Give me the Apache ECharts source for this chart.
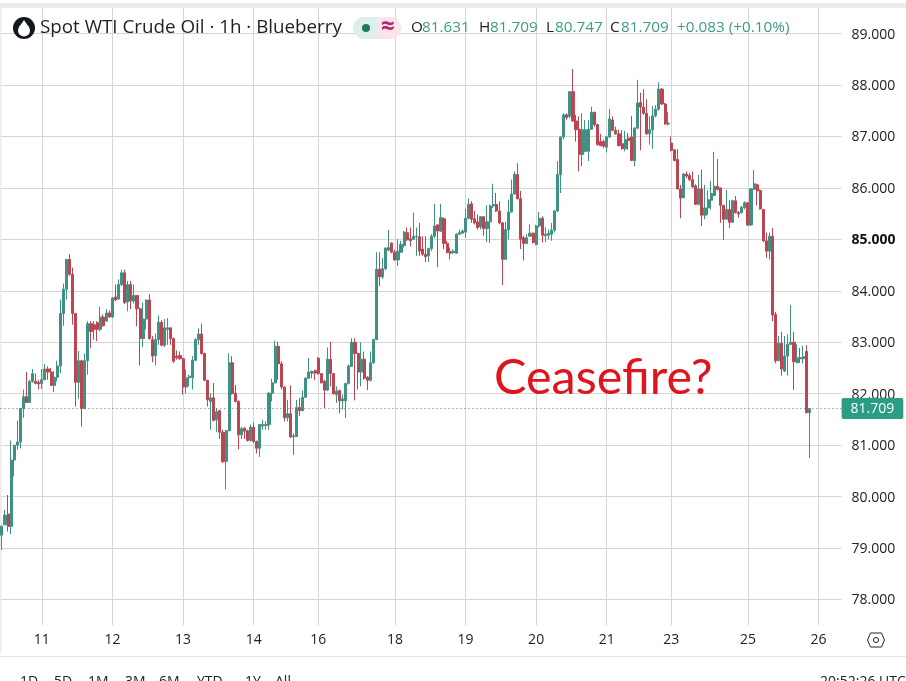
<!DOCTYPE html>
<html><head><meta charset="utf-8">
<style>html,body{margin:0;padding:0;background:#fff;overflow:hidden}#c{width:906px;height:681px}</style>
<script src="https://cdn.jsdelivr.net/npm/echarts@6/dist/echarts.min.js"></script>
</head><body><div id="c"></div>
<script>
const opens=[79.25,79.45,79.66,79.42,80.71,81.0,81.06,81.71,81.94,81.83,
82.24,82.24,82.22,82.2,82.27,82.48,82.42,82.16,82.32,82.54,
83.56,84.03,84.61,84.32,83.56,82.22,82.64,81.71,82.64,83.36,
83.34,83.38,83.25,83.49,83.41,83.57,83.49,83.88,83.84,84.12,
84.35,83.78,84.12,83.8,83.91,83.65,83.07,83.45,83.82,83.05,
82.74,83.05,83.39,82.94,83.25,83.28,83.07,82.73,82.74,82.68,
82.13,82.31,82.31,82.65,83.05,83.16,82.78,82.26,81.85,81.92,
81.49,81.67,81.25,80.68,81.28,82.6,82.01,81.85,81.2,81.33,
81.28,81.09,81.35,81.07,80.94,81.37,81.38,81.4,82.01,82.21,
82.92,82.58,82.13,81.53,81.61,81.16,81.17,81.73,81.67,81.93,
82.3,82.4,82.45,82.69,82.39,82.24,82.07,82.67,82.39,81.98,
82.06,81.86,81.86,82.2,82.53,83.0,82.78,82.42,82.67,82.32,
82.26,82.6,83.05,84.42,84.27,84.43,84.79,84.93,84.75,84.6,
84.75,84.88,85.13,85.01,85.0,85.05,85.05,84.81,84.71,84.68,
84.82,85.06,85.28,85.16,85.4,84.92,84.76,84.74,84.73,85.1,
85.12,85.14,85.41,85.69,85.4,85.34,85.24,85.44,85.21,85.34,
85.65,85.68,85.55,85.32,84.61,85.19,85.53,85.88,86.26,85.79,
85.03,84.92,85.06,85.12,84.9,85.26,85.41,85.07,85.08,85.1,
85.18,85.55,86.26,86.99,87.42,87.39,87.87,87.3,87.14,86.65,
86.71,86.71,87.14,87.47,87.23,86.9,86.9,86.79,86.99,87.32,
87.12,87.05,86.86,86.76,86.97,86.99,86.53,87.16,87.66,87.57,
87.45,87.05,87.13,87.4,87.53,87.92,87.63,87.24,86.87,86.74,
86.55,85.98,85.81,86.27,86.24,86.16,86.04,85.68,85.98,85.47,
85.61,85.76,85.85,86.03,86.0,85.66,85.39,85.58,85.33,85.75,
85.52,85.52,85.62,85.71,85.28,85.97,86.06,85.95,85.58,84.97,
84.77,85.06,83.54,82.64,82.98,82.44,82.73,82.96,83.0,82.6,
82.7,82.68,82.82,81.631];
const closes=[79.42,79.64,79.42,80.71,81.0,81.06,81.71,81.94,81.83,82.24,
82.39,82.2,82.19,82.27,82.48,82.42,82.16,82.32,82.54,83.56,
84.03,84.61,84.32,83.56,82.22,82.64,81.71,82.64,83.36,83.21,
83.25,83.25,83.49,83.32,83.57,83.49,83.86,83.82,84.12,84.35,
83.77,84.12,83.8,83.91,83.65,83.07,83.45,83.82,83.07,82.73,
83.05,83.39,82.94,83.28,83.28,83.07,82.63,82.7,82.68,82.13,
82.31,82.34,82.65,83.05,83.16,82.78,82.26,81.88,81.92,81.48,
81.65,81.25,80.68,81.28,82.6,82.0,81.85,81.2,81.32,81.27,
81.09,81.35,81.07,80.94,81.4,81.4,81.4,82.01,82.21,82.92,
82.58,82.13,81.53,81.61,81.16,81.18,81.73,81.67,81.93,82.3,
82.42,82.43,82.4,82.39,82.21,82.07,82.67,82.39,82.0,82.05,
81.86,81.9,82.2,82.54,83.0,82.78,82.42,82.67,82.3,82.26,
82.6,83.05,84.42,84.27,84.43,84.83,84.84,84.75,84.6,84.77,
84.9,85.14,84.99,84.97,85.06,85.06,84.77,84.71,84.66,84.82,
85.06,85.26,85.16,85.42,84.92,84.74,84.73,84.77,85.1,85.13,
85.16,85.41,85.68,85.39,85.32,85.23,85.44,85.21,85.34,85.65,
85.68,85.55,85.32,84.61,85.19,85.53,85.88,86.26,85.79,85.0,
84.92,85.03,85.12,84.94,85.26,85.41,85.08,85.1,85.12,85.18,
85.55,86.26,86.99,87.42,87.37,87.87,87.3,87.13,86.65,87.13,
87.13,87.14,87.47,87.23,86.84,86.82,86.81,86.99,87.34,87.12,
87.05,86.82,86.76,86.94,86.92,86.53,87.16,87.65,87.57,87.45,
87.05,87.13,87.4,87.53,87.92,87.63,87.24,87.26,86.73,86.53,
85.98,85.8,86.27,86.23,86.16,86.02,85.68,85.98,85.47,85.61,
85.77,85.89,86.03,85.97,85.66,85.39,85.58,85.33,85.75,85.52,
85.49,85.62,85.71,85.28,85.98,86.08,85.94,85.59,84.97,84.77,
85.06,83.53,82.64,82.98,82.48,82.73,82.96,83.0,82.62,82.7,
82.68,82.72,81.63,81.709];
const lows=[78.96,79.45,79.32,79.27,80.39,80.91,80.94,81.53,81.82,81.82,
82.21,82.18,82.08,82.09,82.27,82.27,82.16,82.03,82.24,82.4,
83.32,83.83,84.29,83.34,81.75,81.9,81.36,81.7,82.37,82.89,
83.05,83.02,83.21,83.3,83.41,83.48,83.47,83.8,83.82,84.09,
83.74,83.6,83.64,83.75,83.31,82.55,82.91,83.25,83.05,82.61,
82.55,82.95,82.92,82.91,82.95,82.95,82.6,82.66,82.66,81.98,
82.01,82.14,82.08,82.63,82.95,82.76,82.26,81.75,81.3,81.46,
81.25,81.12,80.65,80.14,81.27,81.98,81.83,80.92,81.12,81.12,
81.07,81.07,81.04,80.84,80.77,81.3,81.3,81.3,81.85,82.2,
82.27,82.08,81.46,81.46,81.14,80.81,81.16,81.57,81.66,81.92,
82.29,82.3,82.27,82.37,82.2,81.72,82.05,82.14,81.98,81.82,
81.62,81.69,81.53,82.18,82.52,81.87,82.08,82.14,82.27,82.07,
82.24,82.58,83.04,84.09,84.23,84.4,84.77,84.73,84.58,84.48,
84.74,84.84,84.97,84.86,84.99,84.68,84.68,84.68,84.56,84.56,
84.77,85.03,84.46,85.14,84.81,84.73,84.61,84.72,84.72,85.08,
85.1,85.03,85.39,85.32,85.29,85.19,85.19,85.07,84.95,84.93,
85.61,85.53,85.29,84.11,84.6,85.0,85.52,85.87,85.77,84.81,
84.59,84.9,85.05,84.92,84.88,85.23,84.94,84.95,85.0,84.97,
85.13,85.53,85.9,86.94,87.32,87.35,87.29,86.9,86.32,86.42,
86.69,86.52,87.13,87.19,86.82,86.81,86.77,86.69,86.97,87.1,
87.03,86.81,86.74,86.71,86.74,86.52,86.42,87.14,86.73,87.42,
87.03,86.84,86.76,87.37,87.5,87.61,87.23,87.21,86.71,86.52,
85.97,85.41,85.8,86.19,86.13,86.0,85.67,85.66,85.26,85.39,
85.47,85.58,85.84,85.95,85.32,84.99,85.38,85.22,85.32,85.5,
85.42,85.5,85.58,85.26,85.26,85.96,85.66,85.58,84.95,84.64,
84.61,83.41,82.59,82.64,82.35,82.42,82.35,82.94,82.07,82.59,
82.6,82.59,81.62,80.747];
const highs=[79.45,79.74,80.03,81.09,81.0,81.48,81.72,82.08,82.42,82.27,
82.48,82.39,82.27,82.48,82.58,82.53,82.5,82.44,82.64,83.83,
84.14,84.62,84.71,84.45,83.57,82.83,82.66,82.78,83.41,83.41,
83.41,83.41,83.69,83.54,83.64,83.62,83.88,84.12,84.22,84.41,
84.41,84.19,84.19,84.12,83.91,83.67,83.77,83.83,83.93,83.12,
83.17,83.52,83.43,83.45,83.47,83.28,83.09,82.84,82.82,82.7,
82.47,82.37,82.73,83.08,83.27,83.36,82.8,82.27,82.01,82.21,
81.72,81.69,81.3,81.3,82.78,82.73,82.17,81.87,81.36,81.35,
81.3,81.4,81.44,81.09,81.41,81.49,81.46,82.03,82.29,83.03,
83.01,82.63,82.14,81.88,82.16,81.23,81.88,81.92,82.06,82.32,
82.69,82.45,82.47,82.71,82.4,82.27,82.9,83.01,82.4,82.14,
82.08,81.98,82.21,82.57,83.08,83.08,82.8,83.0,82.82,82.34,
82.82,83.07,84.75,84.75,84.64,84.84,85.18,84.93,84.8,85.0,
84.97,85.16,85.23,85.23,85.52,85.23,85.32,85.06,85.06,84.84,
85.1,85.69,85.29,85.69,85.42,84.97,84.84,84.81,85.12,85.19,
85.19,85.59,85.79,85.74,85.55,85.48,85.45,85.45,85.66,85.68,
86.08,85.9,85.74,85.33,85.34,85.77,86.16,86.32,86.48,85.94,
85.07,85.1,85.29,85.13,85.28,85.53,85.45,85.23,85.19,85.32,
85.57,86.52,87.0,87.45,87.45,87.88,88.31,87.42,87.39,87.45,
87.32,87.32,87.58,87.48,87.25,87.05,86.94,87.01,87.53,87.39,
87.19,87.13,87.12,87.11,87.07,87.4,87.18,88.1,87.85,87.92,
87.72,87.39,87.59,87.61,88.05,87.94,87.65,87.47,87.0,86.75,
86.75,86.06,86.29,86.32,86.29,86.32,86.07,86.25,86.35,86.06,
85.95,86.13,86.7,86.56,86.0,85.67,85.96,85.76,85.77,85.84,
85.55,85.65,85.74,85.72,86.0,86.35,86.08,85.97,85.59,85.13,
85.13,85.22,83.59,83.12,83.2,83.12,83.15,83.72,83.2,82.96,
82.89,82.93,82.94,81.709];
const dayLabels=['11','12','13','14','16','18','19','20','21','23','25','26'];
const dayCandles=[13,36,59,82,103,128,151,174,197,218,243,266];
const slotCount=274;
const lastPrice=81.709;
const priceMin=77.5, priceMax=89.5, priceStep=0.5;
const boldTick=85;
const rangeButtons=[['1D',20],['5D',54],['1M',88],['3M',125],['6M',159],['YTD',197],['1Y',245],['All',275]];
const ohlc=[['O',411,'81.631',422],['H',479,'81.709',490],['L',546,'80.747',555],['C',610,'81.709',621]];

const categories=new Array(slotCount).fill('');
dayCandles.forEach((c,i)=>{categories[c]=dayLabels[i];});
const candles=opens.map((o,i)=>[o,closes[i],lows[i],highs[i]]);
const UP='#3f9183', DOWN='#bb4652', FONT='"Open Sans",sans-serif';
const isDay=(i,v)=>v!=='';

const txt=(x,y,t,fs,fill,extra)=>({type:'text',x:x,y:y,z:50,silent:true,
  style:Object.assign({text:t,fontSize:fs,fontFamily:FONT,fill:fill,verticalAlign:'middle'},extra||{})});

const elements=[
 {type:'rect',z:40,shape:{x:0,y:3,width:906,height:5},style:{fill:'#ebebeb'}},
 {type:'rect',z:1,shape:{x:0,y:3,width:1.5,height:650},style:{fill:'#ebebeb'}},
 {type:'line',z:40,shape:{x1:0,y1:656.5,x2:906,y2:656.5},style:{stroke:'#e6e6e6',lineWidth:1}},
 {type:'circle',z:45,shape:{cx:24,cy:28,r:11},style:{fill:'#131722'}},
 {type:'circle',z:46,shape:{cx:24,cy:30.5,r:6},style:{fill:'#fff'}},
 {type:'polygon',z:46,shape:{points:[[24,20],[18.8,27.5],[29.2,27.5]]},style:{fill:'#fff'}},
 txt(40,28,'Spot WTI Crude Oil · 1h · Blueberry',18.8,'#1d1f26'),
 {type:'rect',z:45,shape:{x:353,y:17,width:24,height:22,r:[11,0,0,11]},style:{fill:'#dcefe9'}},
 {type:'rect',z:45,shape:{x:377,y:17,width:24,height:22,r:[0,11,11,0]},style:{fill:'#fae3ec'}},
 {type:'circle',z:46,shape:{cx:366,cy:28,r:4},style:{fill:'#1f7a64'}},
 txt(381,27,'≈',24,'#b0286e',{fontWeight:'bold'}),
 txt(677,28,'+0.083 (+0.10%)',15.3,'#3f9b87'),
 txt(494,378,'Ceasefire?',48.5,'#e0141c',{fontFamily:'Lato,sans-serif'}),
 {type:'polygon',z:45,shape:{points:[[870.5,633],[881.5,633],[884.5,640],[881.5,647],[870.5,647],[867.5,640]]},style:{fill:'none',stroke:'#222',lineWidth:1}},
 {type:'circle',z:45,shape:{cx:876,cy:640,r:2.5},style:{fill:'none',stroke:'#222',lineWidth:1}},
 txt(820,682,'20:52:26 UTC',14,'#222'),
];
ohlc.forEach(r=>{elements.push(txt(r[1],28,r[0],15.3,'#222'));elements.push(txt(r[3],28,r[2],15.3,'#3f9b87'));});
rangeButtons.forEach(b=>elements.push(txt(b[1],682,b[0],14,'#222')));

const chart=echarts.init(document.getElementById('c'),null,{renderer:'canvas'});
chart.setOption({
 animation:false,
 backgroundColor:'#fff',
 graphic:{elements},
 grid:{left:0.4,top:7.8,width:841.2,height:617.4,containLabel:false},
 xAxis:{type:'category',data:categories,boundaryGap:true,
   axisLine:{show:false},axisTick:{show:false},
   axisLabel:{interval:isDay,margin:8,fontSize:14,color:'#222',fontFamily:FONT,hideOverlap:false},
   splitLine:{show:true,interval:isDay,alignWithLabel:true,lineStyle:{color:'#d6d6d6',width:1}}},
 yAxis:{type:'value',position:'right',min:priceMin,max:priceMax,interval:priceStep,
   axisLine:{show:false},axisTick:{show:false},
   axisLabel:{margin:10,fontSize:14,color:'#222',fontFamily:FONT,padding:[2,0,0,0],
     formatter:v=>v%1!==0?'':(v===boldTick?'{b|'+v.toFixed(3)+'}':v.toFixed(3)),
     rich:{b:{fontWeight:'bold',fontSize:14,color:'#111',fontFamily:FONT}}},
   splitLine:{show:true,lineStyle:{color:['rgba(0,0,0,0)','#d6d6d6'],width:1}}},
 series:[{type:'candlestick',data:candles,barWidth:2.6,
   itemStyle:{color:UP,color0:DOWN,borderColor:UP,borderColor0:DOWN,borderWidth:1},
   markLine:{silent:true,symbol:'none',animation:false,
     lineStyle:{type:[1,3],color:'#4b7f75',width:1},
     label:{position:'end',distance:0,formatter:lastPrice.toFixed(3),color:'#fff',backgroundColor:'#2a9d84',
       padding:[4,9,3,9],borderRadius:2,fontSize:14,fontFamily:FONT},
     data:[{yAxis:lastPrice}]}}]
});
</script></body></html>
